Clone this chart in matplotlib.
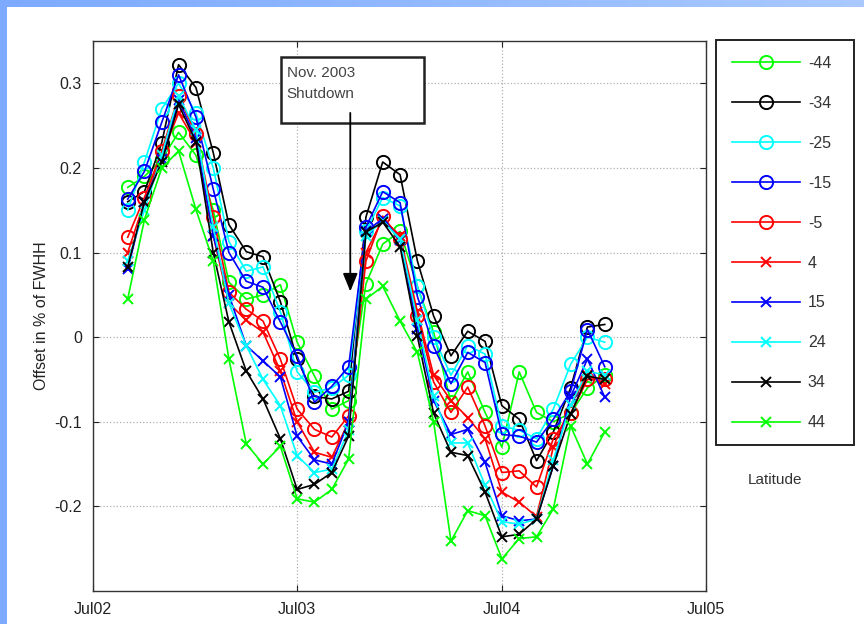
import numpy as np
import pandas as pd
import matplotlib
matplotlib.use('Agg')
import matplotlib.pyplot as plt
from matplotlib.patches import Rectangle

plt.rcParams['font.family'] = ['Liberation Sans', 'DejaVu Sans']

# monthly samples, Sep 2002 .. Jan 2005
months = pd.date_range('2002-09-01', periods=29, freq='MS')

latitudes = ['-44', '-34', '-25', '-15', '-5', '4', '15', '24', '34', '44']
colors = ['#00ff00', 'k', '#00ffff', '#0000ff', '#ff0000',
          '#ff0000', '#0000ff', '#00ffff', 'k', '#00ff00']
markers = ['o', 'o', 'o', 'o', 'o', 'x', 'x', 'x', 'x', 'x']

lat_m44 = [0.177, 0.19, 0.21, 0.242, 0.215, 0.15, 0.065, 0.045, 0.05, 0.062,
           -0.006, -0.046, -0.085, -0.075, 0.063, 0.11, 0.125, 0.06, 0.006,
           -0.077, -0.041, -0.089, -0.13, -0.041, -0.089, -0.1, -0.09, -0.06, -0.045]
lat_m34 = [0.16, 0.172, 0.23, 0.322, 0.295, 0.218, 0.133, 0.101, 0.095, 0.042,
           -0.026, -0.07, -0.073, -0.064, 0.142, 0.207, 0.192, 0.09, 0.025,
           -0.022, 0.007, -0.005, -0.081, -0.097, -0.146, -0.112, -0.06, 0.012, 0.015]
lat_m25 = [0.15, 0.207, 0.27, 0.30, 0.265, 0.2, 0.113, 0.078, 0.083, 0.03,
           -0.041, -0.065, -0.06, -0.045, 0.125, 0.165, 0.155, 0.06, 0.0,
           -0.045, -0.01, -0.02, -0.105, -0.11, -0.12, -0.085, -0.032, 0.0, -0.006]
lat_m15 = [0.163, 0.196, 0.254, 0.31, 0.26, 0.175, 0.10, 0.066, 0.059, 0.018,
           -0.022, -0.077, -0.058, -0.035, 0.13, 0.172, 0.159, 0.048, -0.011,
           -0.055, -0.018, -0.03, -0.115, -0.117, -0.124, -0.097, -0.064, 0.009, -0.035]
lat_m5 = [0.118, 0.165, 0.22, 0.285, 0.24, 0.142, 0.053, 0.033, 0.019, -0.026,
          -0.085, -0.109, -0.118, -0.093, 0.09, 0.143, 0.116, 0.025, -0.053,
          -0.089, -0.059, -0.105, -0.16, -0.158, -0.177, -0.12, -0.09, -0.05, -0.05]
lat_4 = [0.1, 0.16, 0.215, 0.265, 0.23, 0.12, 0.04, 0.02, 0.006, -0.04,
         -0.1, -0.136, -0.142, -0.1, 0.1, 0.14, 0.12, 0.03, -0.045,
         -0.075, -0.095, -0.12, -0.183, -0.195, -0.212, -0.13, -0.08, -0.045, -0.055]
lat_15 = [0.08, 0.16, 0.21, 0.28, 0.235, 0.12, 0.05, -0.01, -0.028, -0.047,
          -0.117, -0.145, -0.15, -0.1, 0.125, 0.14, 0.115, 0.01, -0.075,
          -0.115, -0.109, -0.148, -0.211, -0.217, -0.215, -0.152, -0.07, -0.026, -0.071]
lat_24 = [0.09, 0.15, 0.215, 0.285, 0.245, 0.13, 0.04, -0.01, -0.05, -0.081,
          -0.14, -0.16, -0.156, -0.11, 0.12, 0.137, 0.116, 0.02, -0.07,
          -0.125, -0.125, -0.175, -0.218, -0.221, -0.215, -0.145, -0.08, -0.04, -0.045]
lat_34 = [0.083, 0.16, 0.207, 0.275, 0.231, 0.1, 0.018, -0.04, -0.073, -0.12,
          -0.18, -0.174, -0.16, -0.117, 0.124, 0.136, 0.107, 0.001, -0.09,
          -0.136, -0.14, -0.183, -0.236, -0.233, -0.215, -0.152, -0.091, -0.046, -0.05]
lat_44 = [0.045, 0.139, 0.2, 0.22, 0.151, 0.09, -0.026, -0.126, -0.15, -0.129,
          -0.191, -0.195, -0.18, -0.144, 0.045, 0.06, 0.019, -0.018, -0.1,
          -0.241, -0.205, -0.211, -0.262, -0.238, -0.236, -0.203, -0.105, -0.15, -0.112]

series = [lat_m44, lat_m34, lat_m25, lat_m15, lat_m5, lat_4, lat_15, lat_24, lat_34, lat_44]

xtick_dates = pd.to_datetime(['2002-07-01', '2003-07-01', '2004-07-01', '2005-07-01'])
xtick_labels = ['Jul02', 'Jul03', 'Jul04', 'Jul05']
ytick_vals = [-0.2, -0.1, 0, 0.1, 0.2, 0.3]
ytick_labels = ['-0.2', '-0.1', '0', '0.1', '0.2', '0.3']

shutdown_date = pd.Timestamp('2003-10-04')
shutdown_y = 0.054

W, H = 864, 624
fig = plt.figure(figsize=(W / 100, H / 100), dpi=100)

# blue frame strips (left and top)
grad = np.linspace(0, 1, 256).reshape(1, -1)
top = fig.add_axes([0, 1 - 7 / H, 1, 7 / H])
top.imshow(grad, aspect='auto', cmap=matplotlib.colors.LinearSegmentedColormap.from_list(
    'b', ['#7daaff', '#a9c9ff']))
top.axis('off')
fig.patches.append(Rectangle((0, 0), 7 / W, 1, transform=fig.transFigure,
                             facecolor='#7daaff', edgecolor='none'))

ax = fig.add_axes([93 / W, 33 / H, 613 / W, 550 / H])

for vals, c, m, lab in zip(series, colors, markers, latitudes):
    ax.plot(months, vals, color=c, marker=m, lw=1.2,
            markersize=9.5 if m == 'o' else 7, markeredgewidth=1.4,
            markerfacecolor='none', label=lab)

ax.set_xlim(pd.Timestamp('2002-07-01'), pd.Timestamp('2005-07-01'))
ax.set_ylim(-0.3, 0.35)
ax.set_xticks(xtick_dates)
ax.set_xticklabels(xtick_labels)
ax.set_yticks(ytick_vals)
ax.set_yticklabels(ytick_labels)
ax.tick_params(direction='in', top=True, right=True, length=4, labelsize=11.5,
               colors='#222222', pad=8)
ax.grid(True, linestyle=':', color='#b0b0b0', lw=0.9)
for s in ax.spines.values():
    s.set_color('#333333')
    s.set_linewidth(1.0)
ax.set_ylabel('Offset in % of FWHH', fontsize=11.5, color='#222222', labelpad=4)

# annotation box + arrow
ax.add_patch(Rectangle((0.307, 0.851), 0.233, 0.12, transform=ax.transAxes,
                       facecolor='white', edgecolor='#222222', lw=1.8, zorder=5))
ax.text(0.316, 0.955, 'Nov. 2003\nShutdown', transform=ax.transAxes, fontsize=11,
        va='top', ha='left', color='#444444', linespacing=1.65, zorder=6)
ax.annotate('', xy=(shutdown_date, shutdown_y), xycoords='data',
            xytext=(shutdown_date, 0.265), textcoords='data',
            arrowprops=dict(arrowstyle='-|>,head_length=1.1,head_width=0.45',
                            color='k', lw=1.3, shrinkA=0, shrinkB=0), zorder=6)

# legend (frame drawn separately to match the box size)
leg = ax.legend(loc='upper left', bbox_to_anchor=(716 / W, 1 - 40 / H),
                bbox_transform=fig.transFigure, fontsize=11.5, frameon=False,
                handlelength=4.25, handletextpad=0.5, labelspacing=1.56,
                borderpad=1.0, borderaxespad=0)
for t in leg.get_texts():
    t.set_color('#333333')
fig.patches.append(Rectangle((716 / W, 1 - 445 / H), 138 / W, 405 / H,
                             transform=fig.transFigure, facecolor='none',
                             edgecolor='#222222', lw=1.4, zorder=10))

fig.text(775 / W, 1 - 480 / H, 'Latitude', fontsize=11, ha='center',
         va='center', color='#333333')

fig.savefig('out.png', dpi=100)
